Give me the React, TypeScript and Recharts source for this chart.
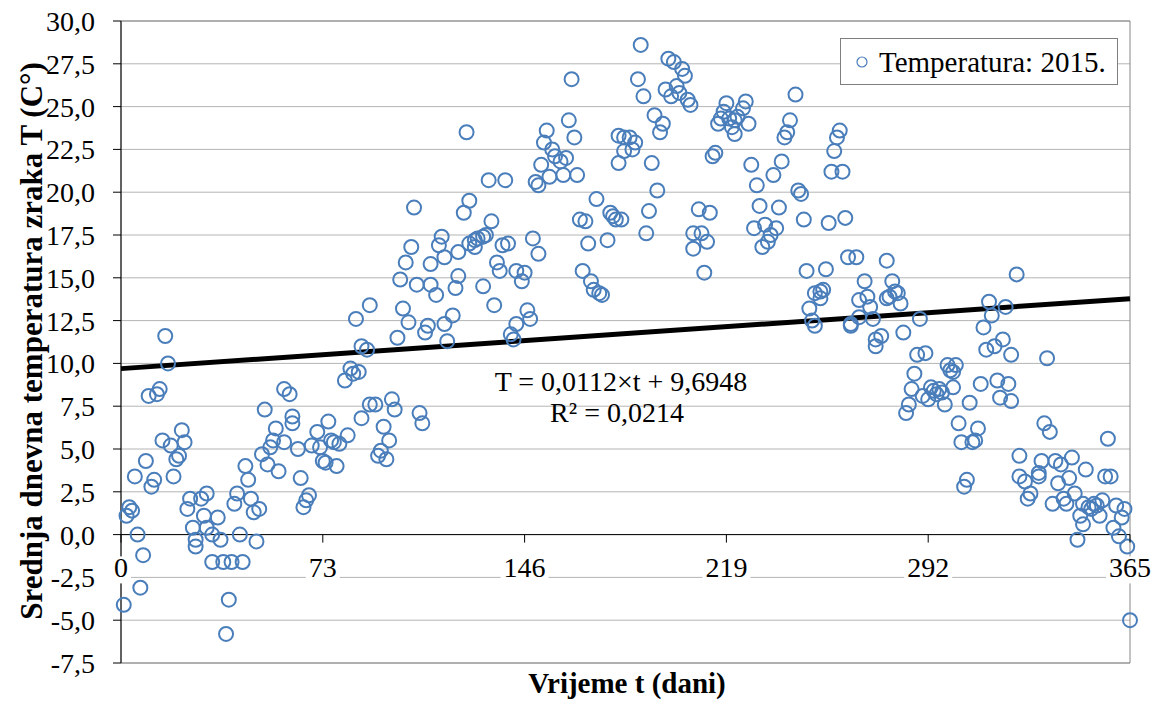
import React from 'react';
import {
  ScatterChart, Scatter, XAxis, YAxis, CartesianGrid, ReferenceLine, ReferenceArea, ReferenceDot
} from 'recharts';

const FONT = '"Liberation Serif", "Times New Roman", serif';
const BLUE = '#4A7EBB';

// daily mean air temperature, 2015 — day of year / value
const q1Days = [
  1, 2, 3, 4, 5, 6, 7, 8, 9, 10, 11, 12, 13, 14, 15, 16, 17, 18, 19, 20, 21, 22, 23, 24, 25, 26, 27,
  27, 29, 30, 31, 31, 33, 33, 35, 36, 37, 38, 39, 40, 41, 42, 43, 44, 45, 46, 47, 48, 49, 50, 51, 52,
  53, 54, 55, 56, 57, 59, 59, 61, 62, 62, 64, 65, 66, 67, 68, 69, 71, 72, 73, 74, 75, 76, 77, 78, 79,
  81, 82, 83, 84, 85, 86, 87, 87, 89, 90, 90,
];
const q1Temps = [
  -4.1, 1.1, 1.6, 1.4, 3.4, 0.0, -3.1, -1.2, 4.3, 8.1, 2.8, 3.2, 8.2, 8.5, 5.5, 11.6, 10.0, 5.2, 3.4, 4.4, 4.6, 6.1, 5.4, 1.5, 2.1, 0.4, -0.7,
  -0.3, 2.1, 1.1, 2.4, 0.4, 0.0, -1.6, 1.0, -0.3, -1.6, -5.8, -3.8, -1.6, 1.8, 2.4, 0.0, -1.6, 4.0, 3.2, 2.1, 1.3, -0.4, 1.5, 4.7, 7.3,
  4.1, 5.1, 5.5, 6.2, 3.7, 8.5, 5.4, 8.2, 6.5, 6.9, 5.0, 3.3, 1.6, 2.0, 2.3, 5.2, 6.0, 5.1, 4.3, 4.2, 6.6, 5.5, 5.4, 4.0, 5.3,
  9.0, 5.8, 9.7, 9.4, 12.6, 9.5, 6.8, 11.0, 10.8, 13.4, 7.6,
];

const q2Days = [
  92, 93, 94, 95, 96, 97, 98, 99, 100, 101, 102, 103, 104, 105, 106, 107, 108, 109, 110, 111, 112,
  112, 114, 115, 116, 117, 117, 118, 120, 121, 122, 122, 124, 125, 126, 126, 128, 128, 129, 131, 131,
  132, 133, 134, 135, 136, 137, 138, 139, 140, 141, 142, 143, 143, 145, 146, 147, 148, 149, 150, 151,
  151, 152, 153, 154, 155, 156, 157, 159, 160, 161, 162, 163, 164, 165, 166, 167, 168, 169, 170, 171,
  172, 173, 174, 176, 177, 178, 179, 180, 180, 181,
];
const q2Temps = [
  7.6, 4.6, 4.9, 6.3, 4.4, 5.5, 7.9, 7.3, 11.5, 14.9, 13.2, 15.9, 12.4, 16.8, 19.1, 14.6, 7.1, 6.5, 11.8, 12.2, 14.6,
  15.8, 14.0, 16.9, 17.4, 16.2, 12.3, 11.3, 12.8, 14.4, 16.5, 15.1, 18.8, 23.5, 19.5, 17.0, 16.8, 17.2, 17.3, 17.4, 14.5,
  17.5, 20.7, 18.3, 13.4, 15.9, 15.4, 16.9, 20.7, 17.0, 11.7, 11.4, 12.3, 15.4, 14.8, 15.3, 13.1, 12.6, 17.3, 20.6, 20.4,
  16.4, 21.6, 22.9, 23.6, 20.9, 22.5, 22.1, 21.8, 21.0, 22.0, 24.2, 26.6, 23.2, 21.0, 18.4, 15.4, 18.3, 17.0, 14.8, 14.3,
  19.6, 14.1, 14.0, 17.2, 18.8, 18.6, 18.4, 21.7, 23.3, 18.4,
];

const q3Days = [
  182, 182, 184, 185, 186, 187, 188, 189, 190, 191, 192, 193, 194, 195, 196, 197, 198, 199, 200, 201,
  202, 203, 204, 205, 206, 207, 207, 209, 210, 211, 212, 213, 214, 215, 216, 217, 218, 219, 220, 221,
  222, 222, 223, 225, 226, 227, 228, 229, 230, 231, 232, 233, 234, 235, 236, 237, 238, 239, 240, 241,
  242, 244, 245, 246, 247, 248, 249, 250, 251, 251, 253, 253, 254, 255, 256, 257, 258, 259, 260, 261,
  262, 263, 264, 264, 266, 267, 267, 269, 270, 271, 272, 273, 273,
];
const q3Temps = [
  22.4, 23.2, 23.2, 22.5, 22.9, 26.6, 28.6, 25.6, 17.6, 18.9, 21.7, 24.5, 20.1, 23.5, 24.0, 26.0, 27.8, 25.6, 27.6, 26.2,
  25.8, 27.2, 26.8, 25.4, 25.1, 16.7, 17.6, 19.0, 17.6, 15.3, 17.1, 18.8, 22.1, 22.3, 24.0, 24.3, 24.7, 25.2, 24.3, 23.8,
  23.4, 24.2, 24.4, 24.9, 25.3, 24.0, 21.6, 17.9, 20.4, 19.2, 16.8, 18.1, 17.1, 17.5, 21.0, 17.9, 19.1, 21.8, 23.2, 23.5,
  24.2, 25.7, 20.1, 19.9, 18.4, 15.4, 13.2, 12.5, 12.2, 14.1, 14.2, 13.8, 14.3, 15.5, 18.2, 21.2, 22.4, 23.2, 23.6, 21.2,
  18.5, 16.2, 12.3, 12.2, 16.2, 13.7, 12.7, 14.8, 13.9, 13.3, 12.6, 11.0, 11.4,
];

const q4Days = [
  275, 277, 277, 278, 279, 280, 281, 282, 283, 284, 285, 286, 287, 288, 289, 290, 291, 292, 293, 294,
  295, 296, 297, 298, 299, 300, 301, 301, 302, 303, 304, 305, 306, 307, 308, 309, 310, 311, 312, 313,
  314, 315, 316, 317, 318, 319, 320, 321, 322, 322, 324, 325, 325, 327, 328, 329, 332, 332, 333, 334,
  335, 336, 337, 338, 339, 340, 341, 342, 343, 344, 345, 346, 347, 348, 348, 349, 350, 351, 352, 353,
  354, 355, 356, 357, 358, 359, 360, 361, 362, 363, 364, 365,
];
const q4Temps = [
  11.6, 16.0, 13.8, 13.9, 14.8, 14.2, 14.1, 13.5, 11.8, 7.1, 7.6, 8.5, 9.4, 10.5, 12.6, 8.1, 10.6, 7.9, 8.6, 8.4,
  8.2, 8.5, 8.3, 7.6, 9.9, 9.6, 8.6, 9.5, 9.9, 6.5, 5.4, 2.8, 3.2, 7.7, 5.4, 5.5, 6.2, 8.8, 12.1, 10.8,
  13.6, 12.8, 11.0, 9.0, 8.0, 11.4, 13.3, 8.8, 10.5, 7.8, 15.2, 4.6, 3.4, 3.1, 2.1, 2.4, 3.6, 3.4, 4.3, 6.5,
  10.3, 6.0, 1.8, 4.3, 3.0, 4.1, 2.1, 1.8, 3.3, 4.5, 2.4, -0.3, 1.1, 0.6, 1.8, 3.8, 1.6, 1.5, 1.8, 1.7,
  1.1, 2.0, 3.4, 5.6, 3.4, 0.4, 1.7, -0.1, 1.0, 1.5, -0.7, -5.0,
];

const xTicks = [0, 73, 146, 219, 292, 365];
const yTicks = [-7.5, -5, -2.5, 0, 2.5, 5, 7.5, 10, 12.5, 15, 17.5, 20, 22.5, 25, 27.5, 30];

// linear trend shown on the chart
const trendSlope = 0.0112;
const trendIntercept = 9.6948;
const rSquared = 0.0214;
const seriesName = 'Temperatura: 2015.';

const days = [...q1Days, ...q2Days, ...q3Days, ...q4Days];
const temps = [...q1Temps, ...q2Temps, ...q3Temps, ...q4Temps];
const data = days.map((d, i) => ({ day: d, temp: temps[i] }));

const trendSegment = [
  { x: 0, y: trendIntercept },
  { x: 365, y: trendIntercept + trendSlope * 365 },
];

const comma = (v: number, digits: number) => v.toFixed(digits).replace('.', ',');

const Ring = (props: any) => (
  <circle cx={props.cx} cy={props.cy} r={7} fill="none" stroke={BLUE} strokeWidth={2} />
);

const tickMark = (props: any) => (
  <line x1={props.cx} x2={props.cx} y1={props.cy} y2={props.cy + 8} stroke="#000" strokeWidth={1} />
);

const tickLabel = (text: string) => (props: any) => {
  const w = text.length * 14 + 6;
  return (
    <g>
      <rect x={props.cx - w / 2} y={props.cy - 21} width={w} height={27} fill="#fff" />
      <text x={props.cx} y={props.cy} textAnchor="middle" fontSize={28} fontFamily={FONT} fill="#000">
        {text}
      </text>
    </g>
  );
};

export default function App() {
  return (
    <div style={{ position: 'absolute', left: 0, top: 0, width: 1161, height: 701, background: '#fff' }}>
      <ScatterChart width={1161} height={701} margin={{ top: 21, right: 31, bottom: 38, left: 0 }}>
        <CartesianGrid vertical={false} stroke="#b4b4b4" />
        <XAxis type="number" dataKey="day" domain={[0, 365]} ticks={xTicks} hide />
        <YAxis
          type="number"
          dataKey="temp"
          domain={[-7.5, 30]}
          ticks={yTicks}
          interval={0}
          width={121}
          tickFormatter={(v: number) => comma(v, 1)}
          axisLine={{ stroke: '#000' }}
          tickLine={{ stroke: '#000' }}
          tickSize={8}
          tickMargin={18}
          tick={{ fill: '#000', fontSize: 28, fontFamily: FONT }}
        />
        <ReferenceArea x1={0} x2={365} y1={-7.5} y2={30} fill="none" stroke="#868686" />
        <ReferenceLine y={0} stroke="#000" />
        <Scatter data={data} shape={Ring} isAnimationActive={false} />
        <ReferenceLine segment={trendSegment} stroke="#000" strokeWidth={5} />
        {xTicks.map((t) => (
          <ReferenceDot key={'m' + t} x={t} y={0} shape={tickMark} />
        ))}
        {xTicks.map((t) => (
          <ReferenceDot key={'l' + t} x={t} y={-2.5} shape={tickLabel(String(t))} />
        ))}
      </ScatterChart>

      <svg width={1161} height={701} style={{ position: 'absolute', left: 0, top: 0, pointerEvents: 'none' }}
        fontFamily={FONT} fill="#000">
        <text transform="translate(31 341) rotate(-90)" textAnchor="middle" dominantBaseline="central"
          fontSize={31} fontWeight="bold">
          Srednja dnevna temperatura zraka T (C°)
        </text>
        <text x={627} y={693} textAnchor="middle" fontSize={29} fontWeight="bold">Vrijeme t (dani)</text>
        <text x={621} y={391} textAnchor="middle" fontSize={28}>
          {`T = ${comma(trendSlope, 4)}×t + ${comma(trendIntercept, 4)}`}
        </text>
        <text x={617} y={422} textAnchor="middle" fontSize={28}>{`R² = ${comma(rSquared, 4)}`}</text>

        <rect x={840.5} y={38.5} width={277} height={46} fill="#fff" stroke="#7f7f7f" />
        <circle cx={862} cy={62} r={5} fill="none" stroke={BLUE} strokeWidth={1.2} />
        <text x={879} y={72} fontSize={29}>{seriesName}</text>
      </svg>
    </div>
  );
}
